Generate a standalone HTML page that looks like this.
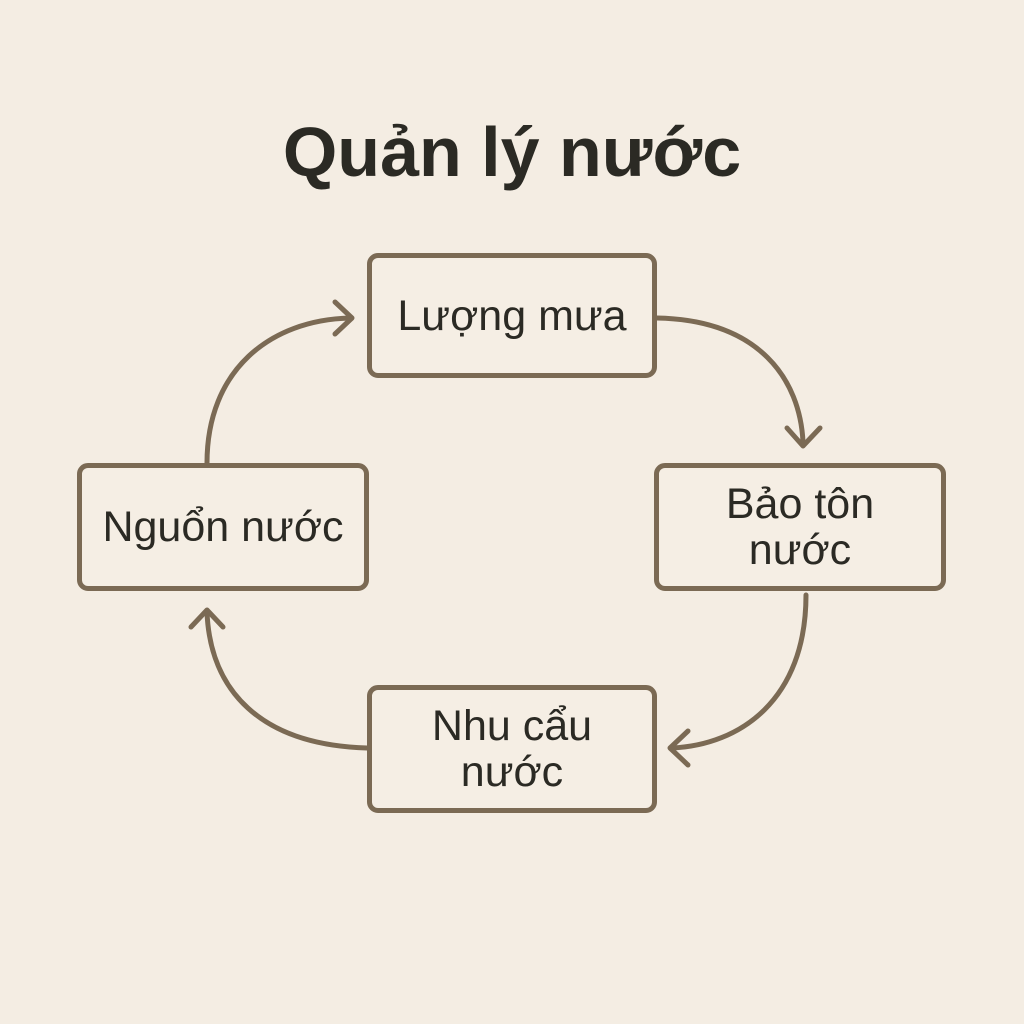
<!DOCTYPE html>
<html><head><meta charset="utf-8"><style>
html,body{margin:0;padding:0}
body{width:1024px;height:1024px;background:#f4ede3;position:relative;overflow:hidden;font-family:"Liberation Sans","DejaVu Sans",sans-serif;color:#2b2a24}
.t{position:absolute;left:0;width:1024px;top:112px;text-align:center;font-size:70px;font-weight:bold;letter-spacing:0px}
.b{position:absolute;box-sizing:border-box;border:5px solid #7b6a54;border-radius:11px;display:flex;align-items:center;justify-content:center;text-align:center;font-size:43px;line-height:46px;background:#f5eee4}
svg{position:absolute;left:0;top:0}
</style></head><body>
<div class="t">Quản lý nước</div>
<svg width="1024" height="1024" fill="none" stroke="#7b6a54" stroke-width="5" stroke-linecap="round" stroke-linejoin="round">
<path d="M657,318 C760,320 800,380 803,442"/>
<path d="M787,428 L803,446 L820,428"/>
<path d="M806,595 C806,700 740,745 672,748"/>
<path d="M688,731 L670,748 L688,765"/>
<path d="M367,748 C260,745 210,690 207,612"/>
<path d="M191,627 L207,610 L223,627"/>
<path d="M207,463 C207,370 270,320 350,318"/>
<path d="M335,302 L352,318 L335,334"/>
</svg>
<div class="b" style="left:367px;top:253px;width:290px;height:125px">Lượng mưa</div>
<div class="b" style="left:654px;top:463px;width:292px;height:128px">Bảo tôn<br>nước</div>
<div class="b" style="left:77px;top:463px;width:292px;height:128px">Nguổn nước</div>
<div class="b" style="left:367px;top:685px;width:290px;height:128px">Nhu cẩu<br>nước</div>
</body></html>
